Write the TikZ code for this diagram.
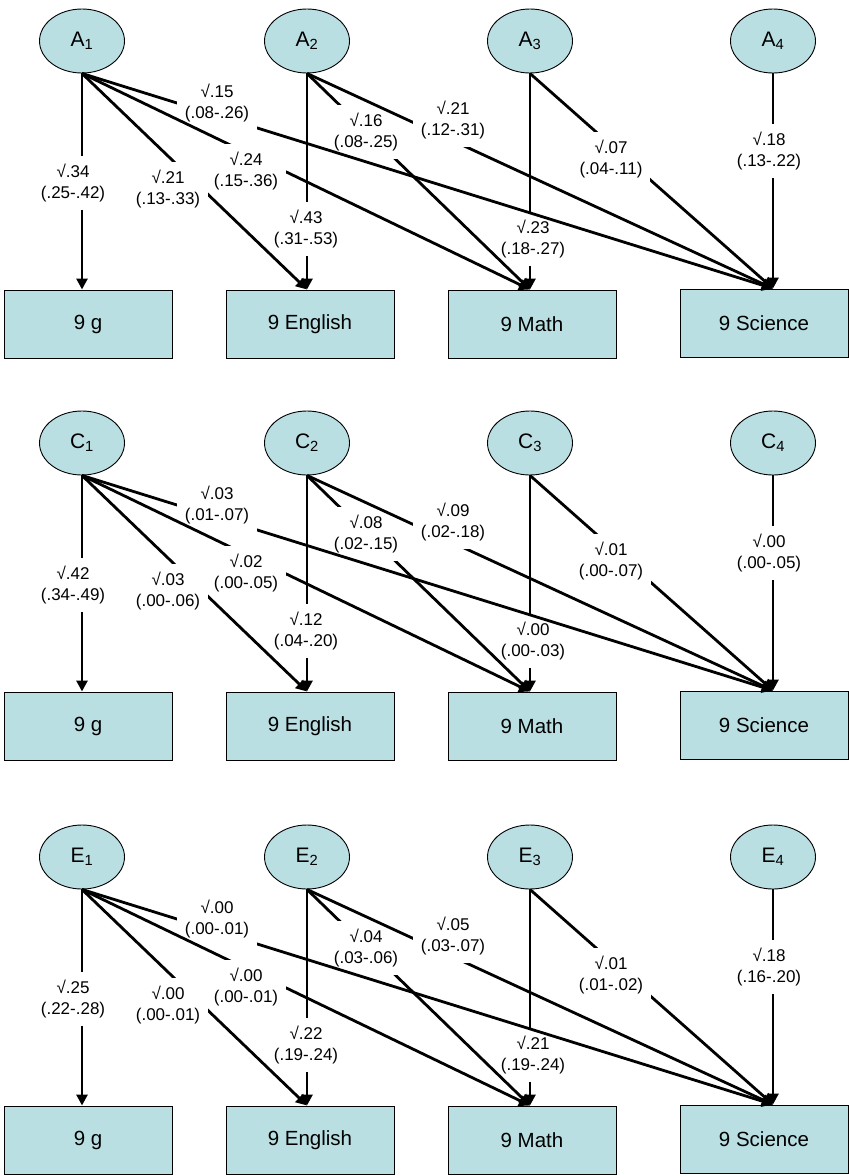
\documentclass[tikz,border=0pt]{standalone}
\usepackage{fontspec}
\setmainfont{Liberation Sans}
\usetikzlibrary{shapes.geometric,arrows.meta}
\definecolor{latentfill}{RGB}{185,223,227}
\tikzset{
  latent/.style={ellipse, draw, line width=0.9pt, fill=latentfill, minimum width=85pt, minimum height=64pt, inner sep=0pt, font=\fontsize{21}{24}\selectfont},
  obs/.style={rectangle, draw, line width=1pt, fill=latentfill, minimum width=168pt, minimum height=68pt, font=\fontsize{20.5}{24}\selectfont},
  arr/.style={line width=2.8pt, -{Triangle[length=11pt,width=11pt]}},
  lbl/.style={fill=white, align=center, inner xsep=8pt, inner ysep=8pt, font=\fontsize{17}{21}\selectfont}
}
\begin{document}
\begin{tikzpicture}[x=1pt, y=-1pt]
\useasboundingbox (0,0) rectangle (849,1176);
\foreach \P/\dy in {A/0,C/402,E/816}{
  \begin{scope}[shift={(0,\dy)}]
    \node[latent] (\P1) at (82,41) {\P\textsubscript{1}};
    \node[latent] (\P2) at (307,41) {\P\textsubscript{2}};
    \node[latent] (\P3) at (530,41) {\P\textsubscript{3}};
    \node[latent] (\P4) at (773,41) {\P\textsubscript{4}};
    \node[obs] (g\P) at (88,324) {9 g};
    \node[obs] (eng\P) at (310,324) {9 English};
    \node[obs] (math\P) at (532,324) {9 Math};
    \node[obs] (sci\P) at (764,323) {9 Science};
    \coordinate (tg\P) at (\P1.south |- g\P.north);
    \coordinate (te\P) at (\P2.south |- eng\P.north);
    \coordinate (tm\P) at (\P3.south |- math\P.north);
    \coordinate (ts\P) at (\P4.south |- sci\P.north);
  \end{scope}
}

\begin{scope}
  \draw[arr] (A3.south) -- (tmA) node[lbl] (vA3m) at (533,239) {√.23\\(.18-.27)};
  \draw[arr] (A2.south) -- (tmA) node[lbl] (vA2m) at (366,132) {√.16\\(.08-.25)};
  \draw[arr] (A2.south) -- (teA) node[lbl] (vA2e) at (306,229) {√.43\\(.31-.53)};
  \draw[arr] (A4.south) -- (tsA) node[lbl] (vA4s) at (769,151) {√.18\\(.13-.22)};
  \draw[arr] (A3.south) -- (tsA) node[lbl] (vA3s) at (611,159) {√.07\\(.04-.11)};
  \draw[arr] (A2.south) -- (tsA) node[lbl] (vA2s) at (453,120) {√.21\\(.12-.31)};
  \draw[arr] (A1.south) -- (tsA) node[lbl] (vA1s) at (217,103) {√.15\\(.08-.26)};
  \draw[arr] (A1.south) -- (tmA) node[lbl] (vA1m) at (246,171) {√.24\\(.15-.36)};
  \draw[arr] (A1.south) -- (teA) node[lbl] (vA1e) at (168,189) {√.21\\(.13-.33)};
  \draw[arr] (A1.south) -- (tgA) node[lbl] (vA1g) at (73,183) {√.34\\(.25-.42)};
\end{scope}

\begin{scope}[shift={(0,402)}]
  \draw[arr] (C3.south) -- (tmC) node[lbl] (vC3m) at (533,239) {√.00\\(.00-.03)};
  \draw[arr] (C2.south) -- (tmC) node[lbl] (vC2m) at (366,132) {√.08\\(.02-.15)};
  \draw[arr] (C2.south) -- (teC) node[lbl] (vC2e) at (306,229) {√.12\\(.04-.20)};
  \draw[arr] (C4.south) -- (tsC) node[lbl] (vC4s) at (769,151) {√.00\\(.00-.05)};
  \draw[arr] (C3.south) -- (tsC) node[lbl] (vC3s) at (611,159) {√.01\\(.00-.07)};
  \draw[arr] (C2.south) -- (tsC) node[lbl] (vC2s) at (453,120) {√.09\\(.02-.18)};
  \draw[arr] (C1.south) -- (tsC) node[lbl] (vC1s) at (217,103) {√.03\\(.01-.07)};
  \draw[arr] (C1.south) -- (tmC) node[lbl] (vC1m) at (246,171) {√.02\\(.00-.05)};
  \draw[arr] (C1.south) -- (teC) node[lbl] (vC1e) at (168,189) {√.03\\(.00-.06)};
  \draw[arr] (C1.south) -- (tgC) node[lbl] (vC1g) at (73,183) {√.42\\(.34-.49)};
\end{scope}

\begin{scope}[shift={(0,816)}]
  \draw[arr] (E3.south) -- (tmE) node[lbl] (vE3m) at (533,239) {√.21\\(.19-.24)};
  \draw[arr] (E2.south) -- (tmE) node[lbl] (vE2m) at (366,132) {√.04\\(.03-.06)};
  \draw[arr] (E2.south) -- (teE) node[lbl] (vE2e) at (306,229) {√.22\\(.19-.24)};
  \draw[arr] (E4.south) -- (tsE) node[lbl] (vE4s) at (769,151) {√.18\\(.16-.20)};
  \draw[arr] (E3.south) -- (tsE) node[lbl] (vE3s) at (611,159) {√.01\\(.01-.02)};
  \draw[arr] (E2.south) -- (tsE) node[lbl] (vE2s) at (453,120) {√.05\\(.03-.07)};
  \draw[arr] (E1.south) -- (tsE) node[lbl] (vE1s) at (217,103) {√.00\\(.00-.01)};
  \draw[arr] (E1.south) -- (tmE) node[lbl] (vE1m) at (246,171) {√.00\\(.00-.01)};
  \draw[arr] (E1.south) -- (teE) node[lbl] (vE1e) at (168,189) {√.00\\(.00-.01)};
  \draw[arr] (E1.south) -- (tgE) node[lbl] (vE1g) at (73,183) {√.25\\(.22-.28)};
\end{scope}
\end{tikzpicture}
\end{document}
